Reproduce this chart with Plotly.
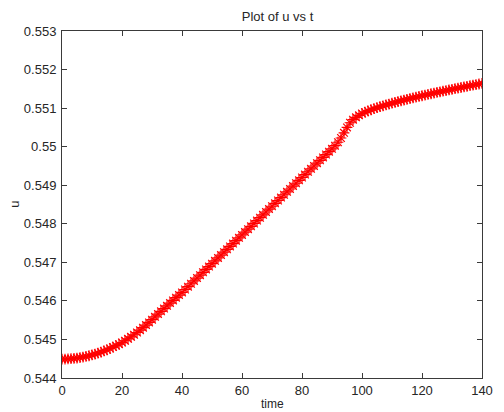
import plotly.graph_objects as go

# Simulation output: u sampled once per time unit, t = 0 .. 140
time = list(range(0, 141))
u = [
    0.544490, 0.544491, 0.544494, 0.544500, 0.544507, 0.544517, 0.544529, 0.544543, 0.544559, 0.544577,
    0.544598, 0.544620, 0.544645, 0.544672, 0.544701, 0.544732, 0.544765, 0.544801, 0.544838, 0.544878,
    0.544920, 0.544966, 0.545015, 0.545067, 0.545122, 0.545180, 0.545241, 0.545305, 0.545372, 0.545442,
    0.545514, 0.545586, 0.545658, 0.545730, 0.545801, 0.545872, 0.545943, 0.546013, 0.546083, 0.546152,
    0.546220, 0.546295, 0.546369, 0.546444, 0.546518, 0.546593, 0.546667, 0.546742, 0.546816, 0.546891,
    0.546965, 0.547040, 0.547114, 0.547189, 0.547263, 0.547338, 0.547412, 0.547487, 0.547561, 0.547636,
    0.547710, 0.547785, 0.547859, 0.547934, 0.548008, 0.548083, 0.548157, 0.548232, 0.548306, 0.548381,
    0.548455, 0.548530, 0.548604, 0.548679, 0.548753, 0.548828, 0.548902, 0.548977, 0.549051, 0.549126,
    0.549200, 0.549275, 0.549349, 0.549424, 0.549498, 0.549573, 0.549647, 0.549722, 0.549796, 0.549871,
    0.549945, 0.550025, 0.550115, 0.550225, 0.550360, 0.550500, 0.550620, 0.550700, 0.550760, 0.550812,
    0.550860, 0.550895, 0.550927, 0.550957, 0.550985, 0.551011, 0.551036, 0.551060, 0.551083, 0.551105,
    0.551127, 0.551148, 0.551169, 0.551189, 0.551209, 0.551228, 0.551247, 0.551266, 0.551284, 0.551302,
    0.551320, 0.551338, 0.551355, 0.551372, 0.551389, 0.551406, 0.551423, 0.551439, 0.551455, 0.551471,
    0.551487, 0.551503, 0.551519, 0.551535, 0.551550, 0.551566, 0.551581, 0.551596, 0.551611, 0.551626,
    0.551641,
]

x_ticks = [0, 20, 40, 60, 80, 100, 120, 140]
y_ticks = [0.544, 0.545, 0.546, 0.547, 0.548, 0.549, 0.55, 0.551, 0.552, 0.553]
y_tick_text = ["0.544", "0.545", "0.546", "0.547", "0.548", "0.549", "0.55", "0.551", "0.552", "0.553"]

FONT = "Liberation Sans, Arial, Helvetica, sans-serif"
AXIS = "#3a3a3a"
TEXT = "#262626"

fig = go.Figure()
fig.add_trace(go.Scatter(
    x=time, y=u, mode="markers",
    marker=dict(symbol="asterisk-open", size=9, color="#ff0000",
                line=dict(color="#ff0000", width=1.2)),
    showlegend=False, hoverinfo="x+y",
))

axis_common = dict(
    showline=True, linecolor=AXIS, linewidth=1, mirror="ticks",
    ticks="inside", ticklen=5, tickwidth=1, tickcolor=AXIS,
    showgrid=False, zeroline=False,
    tickfont=dict(family=FONT, size=13, color=TEXT),
)

fig.update_xaxes(range=[0, 140], tickvals=x_ticks, **axis_common)
fig.update_yaxes(range=[0.544, 0.553], tickvals=y_ticks, ticktext=y_tick_text,
                 ticklabelstandoff=2, **axis_common)

fig.update_layout(
    width=504, height=412,
    margin=dict(l=62, r=11, t=31, b=34),
    paper_bgcolor="white", plot_bgcolor="white",
    font=dict(family=FONT, color=TEXT),
    title=dict(text="Plot of u vs t", x=0.5507, xanchor="center",
               y=1 - 16 / 412, yanchor="middle", yref="container",
               font=dict(family=FONT, size=13, color=TEXT)),
    annotations=[
        dict(text="time", xref="paper", yref="paper", x=0.5, y=-26 / 347,
             xanchor="center", yanchor="middle", showarrow=False,
             font=dict(family=FONT, size=12, color=TEXT)),
        dict(text="u", xref="paper", yref="paper", x=-49 / 431, y=0.5,
             xanchor="center", yanchor="middle", showarrow=False, textangle=-90,
             font=dict(family=FONT, size=13, color=TEXT)),
    ],
)

fig.write_html("out.html")
